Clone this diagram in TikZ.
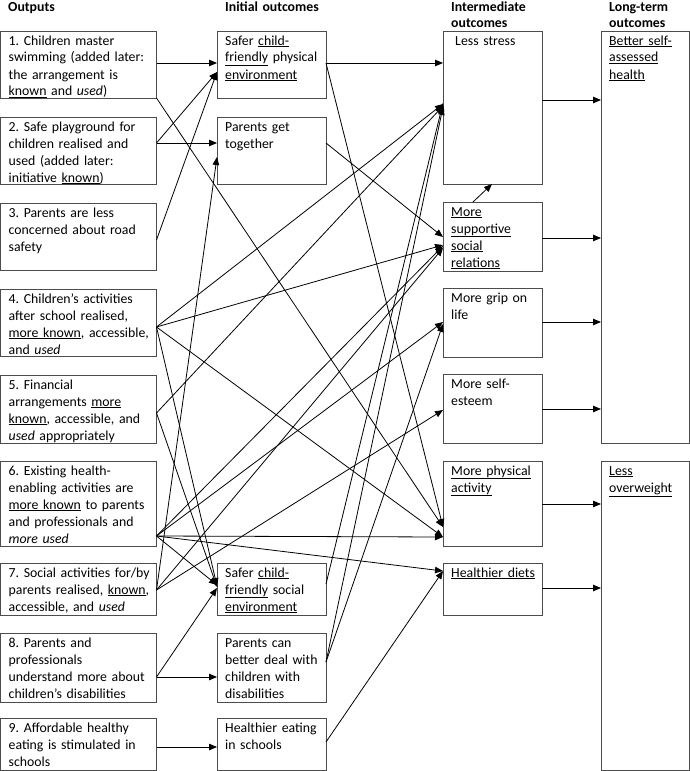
\documentclass[tikz,border=0pt]{standalone}
\usepackage{fontspec}
\setmainfont{Carlito}
\usetikzlibrary{arrows.meta,calc}
\frenchspacing
\begin{document}
\begin{tikzpicture}[x=1pt,y=-1pt,
  bx/.style={draw=black!70, line width=0.75pt, anchor=north west, inner sep=0pt, outer sep=0pt},
  tx/.style={anchor=base west, inner sep=0pt, align=left, text width=170pt, font=\fontsize{13.8}{17}\selectfont},
  hd/.style={anchor=base west, inner sep=0pt, align=left, text width=120pt, font=\bfseries\fontsize{13.8}{17}\selectfont},
  arr/.style={-{Triangle[length=8pt,width=6.5pt]}, line width=0.8pt}]
\useasboundingbox (0,0) rectangle (690,771);
% headers
\node[hd] (h1) at (8,11) {Outputs};
\node[hd] (h2) at (225,11) {Initial outcomes};
\node[hd] (h3) at (451,11) {Intermediate\\outcomes};
\node[hd] (h4) at (609,11) {Long-term\\outcomes};
% output boxes
\node[bx, minimum width=156pt, minimum height=67pt] (o1) at (0.5,31) {};
\node[bx, minimum width=156pt, minimum height=67pt] (o2) at (0.5,117) {};
\node[bx, minimum width=156pt, minimum height=67pt] (o3) at (0.5,203) {};
\node[bx, minimum width=156pt, minimum height=67pt] (o4) at (0.5,289) {};
\node[bx, minimum width=156pt, minimum height=68pt] (o5) at (0.5,375) {};
\node[bx, minimum width=156pt, minimum height=85pt] (o6) at (0.5,461) {};
\node[bx, minimum width=156pt, minimum height=52pt] (o7) at (0.5,563) {};
\node[bx, minimum width=156pt, minimum height=69pt] (o8) at (0.5,633) {};
\node[bx, minimum width=156pt, minimum height=52pt] (o9) at (0.5,718) {};
% initial
\node[bx, minimum width=109pt, minimum height=67pt] (i1) at (217,31) {};
\node[bx, minimum width=109pt, minimum height=67pt] (i2) at (217,117) {};
\node[bx, minimum width=109pt, minimum height=52pt] (i3) at (217,563) {};
\node[bx, minimum width=109pt, minimum height=69pt] (i4) at (217,633) {};
\node[bx, minimum width=109pt, minimum height=52pt] (i5) at (217,718) {};
% intermediate
\node[bx, minimum width=99pt, minimum height=153pt] (m1) at (443,31) {};
\node[bx, minimum width=99pt, minimum height=69pt] (m2) at (443,202) {};
\node[bx, minimum width=99pt, minimum height=69pt] (m3) at (443,288) {};
\node[bx, minimum width=99pt, minimum height=69pt] (m4) at (443,374) {};
\node[bx, minimum width=99pt, minimum height=85pt] (m5) at (443,461) {};
\node[bx, minimum width=99pt, minimum height=52pt] (m6) at (443,563) {};
% long-term
\node[bx, minimum width=88pt, minimum height=412pt] (l1) at (601,31) {};
\node[bx, minimum width=88pt, minimum height=309pt] (l2) at (601,461) {};
% texts
\node[tx] (o1t) at ($(o1.north west)+(8,14)$) {1. Children master\\swimming (added later:\\the arrangement is\\\underline{known} and \textit{used})};
\node[tx] (o2t) at ($(o2.north west)+(8,14)$) {2. Safe playground for\\children realised and\\used (added later:\\initiative \underline{known})};
\node[tx] (o3t) at ($(o3.north west)+(8,14)$) {3. Parents are less\\concerned about road\\safety};
\node[tx] (o4t) at ($(o4.north west)+(8,14)$) {4. Children’s activities\\after school realised,\\\underline{more known}, accessible,\\and \textit{used}};
\node[tx] (o5t) at ($(o5.north west)+(8,14)$) {5. Financial\\arrangements \underline{more}\\\underline{known}, accessible, and\\\textit{used} appropriately};
\node[tx] (o6t) at ($(o6.north west)+(8,14)$) {6. Existing health-\\enabling activities are\\\underline{more known} to parents\\and professionals and\\\textit{more used}};
\node[tx] (o7t) at ($(o7.north west)+(8,14)$) {7. Social activities for/by\\parents realised, \underline{known},\\accessible, and \textit{used}};
\node[tx] (o8t) at ($(o8.north west)+(8,14)$) {8. Parents and\\professionals\\understand more about\\children’s disabilities};
\node[tx] (o9t) at ($(o9.north west)+(8,14)$) {9. Affordable healthy\\eating is stimulated in\\schools};
\node[tx] (i1t) at ($(i1.north west)+(8,14)$) {Safer \underline{child-}\\\underline{friendly} physical\\\underline{environment}};
\node[tx] (i2t) at ($(i2.north west)+(8,14)$) {Parents get\\together};
\node[tx] (i3t) at ($(i3.north west)+(8,14)$) {Safer \underline{child-}\\\underline{friendly} social\\\underline{environment}};
\node[tx] (i4t) at ($(i4.north west)+(8,14)$) {Parents can\\better deal with\\children with\\disabilities};
\node[tx] (i5t) at ($(i5.north west)+(8,14)$) {Healthier eating\\in schools};
\node[tx] (m1t) at ($(m1.north west)+(12,14)$) {Less stress};
\node[tx] (m2t) at ($(m2.north west)+(8,14)$) {\underline{More}\\\underline{supportive}\\\underline{social}\\\underline{relations}};
\node[tx] (m3t) at ($(m3.north west)+(8,14)$) {More grip on\\life};
\node[tx] (m4t) at ($(m4.north west)+(8,14)$) {More self-\\esteem};
\node[tx] (m5t) at ($(m5.north west)+(8,14)$) {\underline{More physical}\\\underline{activity}};
\node[tx] (m6t) at ($(m6.north west)+(8,14)$) {\underline{Healthier diets}};
\node[tx] (l1t) at ($(l1.north west)+(8,14)$) {\underline{Better self-}\\\underline{assessed}\\\underline{health}};
\node[tx] (l2t) at ($(l2.north west)+(8,14)$) {\underline{Less}\\\underline{overweight}};
% outputs -> initial
\draw[arr] ($(o1.north east)+(0,32)$) -- ($(i1.north west)+(0,32)$);
\draw[arr] ($(o2.north east)+(0,26)$) -- ($(i1.north west)+(0,41)$);
\draw[arr] ($(o3.north east)+(0,37)$) -- ($(i1.north west)+(0,41)$);
\draw[arr] ($(o2.north east)+(0,26)$) -- ($(i2.north west)+(0,26)$);
\draw[arr] ($(o7.north east)+(0,27)$) -- ($(i2.north west)+(0,40)$);
\draw[arr] ($(o4.north east)+(0,38)$) -- ($(i3.north west)+(0,23)$);
\draw[arr] ($(o5.north east)+(0,38)$) -- ($(i3.north west)+(0,24)$);
\draw[arr] ($(o6.north east)+(0,75)$) -- ($(i3.north west)+(0,22)$);
\draw[arr] ($(o8.north east)+(0,44)$) -- ($(i3.north west)+(0,25)$);
\draw[arr] ($(o8.north east)+(0,44)$) -- ($(i4.north west)+(0,44)$);
\draw[arr] ($(o9.north east)+(0,29)$) -- ($(i5.north west)+(0,29)$);
% outputs -> intermediate
\draw[arr] (o1.south east) -- ($(m5.north west)+(0,66)$);
\draw[arr] ($(o4.north east)+(0,38)$) -- ($(m1.north west)+(0,73)$);
\draw[arr] ($(o4.north east)+(0,38)$) -- ($(m2.north west)+(0,43)$);
\draw[arr] ($(o4.north east)+(0,38)$) -- ($(m5.north west)+(0,76)$);
\draw[arr] ($(o5.north east)+(0,38)$) -- ($(m1.north west)+(0,75)$);
\draw[arr] ($(o6.north east)+(0,75)$) -- ($(m2.north west)+(0,44)$);
\draw[arr] ($(o6.north east)+(0,75)$) -- ($(m3.north west)+(0,34)$);
\draw[arr] ($(o6.north east)+(0,75)$) -- ($(m5.north west)+(0,76)$);
\draw[arr] ($(o6.north east)+(0,75)$) -- ($(m6.north west)+(0,8)$);
\draw[arr] ($(o7.north east)+(0,27)$) -- ($(m2.north west)+(0,46)$);
\draw[arr] ($(o7.north east)+(0,27)$) -- ($(m4.north west)+(0,36)$);
% initial -> intermediate
\draw[arr] ($(i1.north east)+(0,32)$) -- ($(m1.north west)+(0,32)$);
\draw[arr] ($(i1.north east)+(0,32)$) -- ($(m5.north west)+(0,66)$);
\draw[arr] ($(i2.north east)+(0,26)$) -- ($(m2.north west)+(0,35)$);
\draw[arr] ($(i3.north east)+(0,21)$) -- ($(m1.north west)+(0,72)$);
\draw[arr] ($(i4.north east)+(0,29)$) -- ($(m1.north west)+(0,76)$);
\draw[arr] ($(i4.north east)+(0,29)$) -- ($(m3.north west)+(0,36)$);
\draw[arr] ($(i5.north east)+(0,24)$) -- ($(m6.north west)+(0,8)$);
% intermediate -> long-term
\draw[arr] ($(m2.north west)+(30,0)$) -- ($(m1.south west)+(49,0)$);
\draw[arr] ($(m1.north east)+(0,69)$) -- ($(l1.north west)+(0,69)$);
\draw[arr] ($(m2.north east)+(0,36)$) -- ($(l1.north west)+(0,207)$);
\draw[arr] ($(m3.north east)+(0,34)$) -- ($(l1.north west)+(0,291)$);
\draw[arr] ($(m4.north east)+(0,35)$) -- ($(l1.north west)+(0,378)$);
\draw[arr] ($(m5.north east)+(0,43)$) -- ($(l2.north west)+(0,43)$);
\draw[arr] ($(m6.north east)+(0,25)$) -- ($(l2.north west)+(0,127)$);
\end{tikzpicture}
\end{document}
